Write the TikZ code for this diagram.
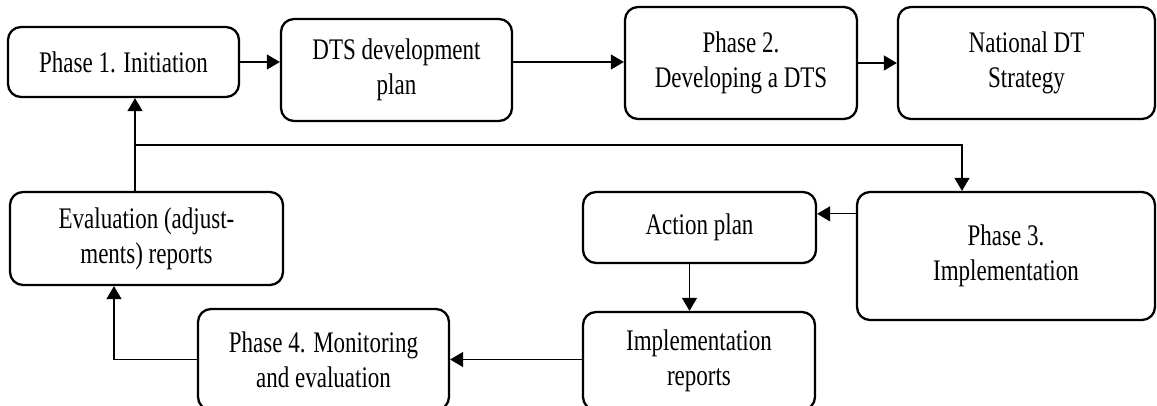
\documentclass[tikz,border=0pt]{standalone}
\usepackage{fontspec}
\setmainfont{Liberation Serif}[FakeStretch=0.77]
\usetikzlibrary{arrows.meta}

\begin{document}
\begin{tikzpicture}[>={Triangle[length=2.6mm, width=3mm]},
	box/.style={draw, line width=1.3pt, rounded corners=2.6mm, align=center, inner sep=0pt, font=\fontsize{17}{20}\selectfont},
	link/.style={->, line width=0.7pt}]
	\useasboundingbox (0,0) rectangle (23.14,8.1);
	\node[box, minimum width=4.62cm, minimum height=1.40cm] (init) at (2.47,6.86) {Phase 1. Initiation};
	\node[box, minimum width=4.62cm, minimum height=2.04cm] (plan) at (7.93,6.70) {DTS development\\plan};
	\node[box, minimum width=4.64cm, minimum height=2.24cm] (dev) at (14.82,6.84) {Phase 2.\\Developing a DTS};
	\node[box, minimum width=5.14cm, minimum height=2.24cm] (strat) at (20.53,6.84) {National DT\\Strategy};
	\node[box, minimum width=5.96cm, minimum height=2.56cm] (impl) at (20.12,2.98) {Phase 3.\\Implementation};
	\node[box, minimum width=4.66cm, minimum height=1.42cm] (action) at (13.99,3.55) {Action plan};
	\node[box, minimum width=4.64cm, minimum height=1.96cm] (reports) at (13.98,0.88) {Implementation\\reports};
	\node[box, minimum width=5.02cm, minimum height=2.02cm] (monitor) at (6.47,0.91) {Phase 4. Monitoring\\and evaluation};
	\node[box, minimum width=5.46cm, minimum height=1.86cm] (evalrep) at (2.93,3.33) {Evaluation (adjust-\\ments) reports};
	\coordinate (fork) at (2.70,5.20);
	\coordinate (turn) at (19.24,5.20);
	\draw[link] (init.east) -- (init.east -| plan.west);
	\draw[link] (init.east -| plan.east) -- (init.east -| dev.west);
	\draw[link] (dev.east) -- (dev.east -| strat.west);
	\draw[link] (evalrep.north -| fork) -- (init.south -| fork);
	\draw[link] (fork) -- (turn) -- (turn |- impl.north);
	\draw[link] ([yshift=-4.6mm]impl.north west) -- ([yshift=-4.6mm]impl.north west -| action.east);
	\draw[link] ([xshift=-2mm]action.south) -- ([xshift=-2mm]action.south |- reports.north);
	\draw[link] (monitor.east -| reports.west) -- (monitor.east);
	\draw[link] (monitor.west) -| ([xshift=-6.5mm]evalrep.south);
\end{tikzpicture}
\end{document}
